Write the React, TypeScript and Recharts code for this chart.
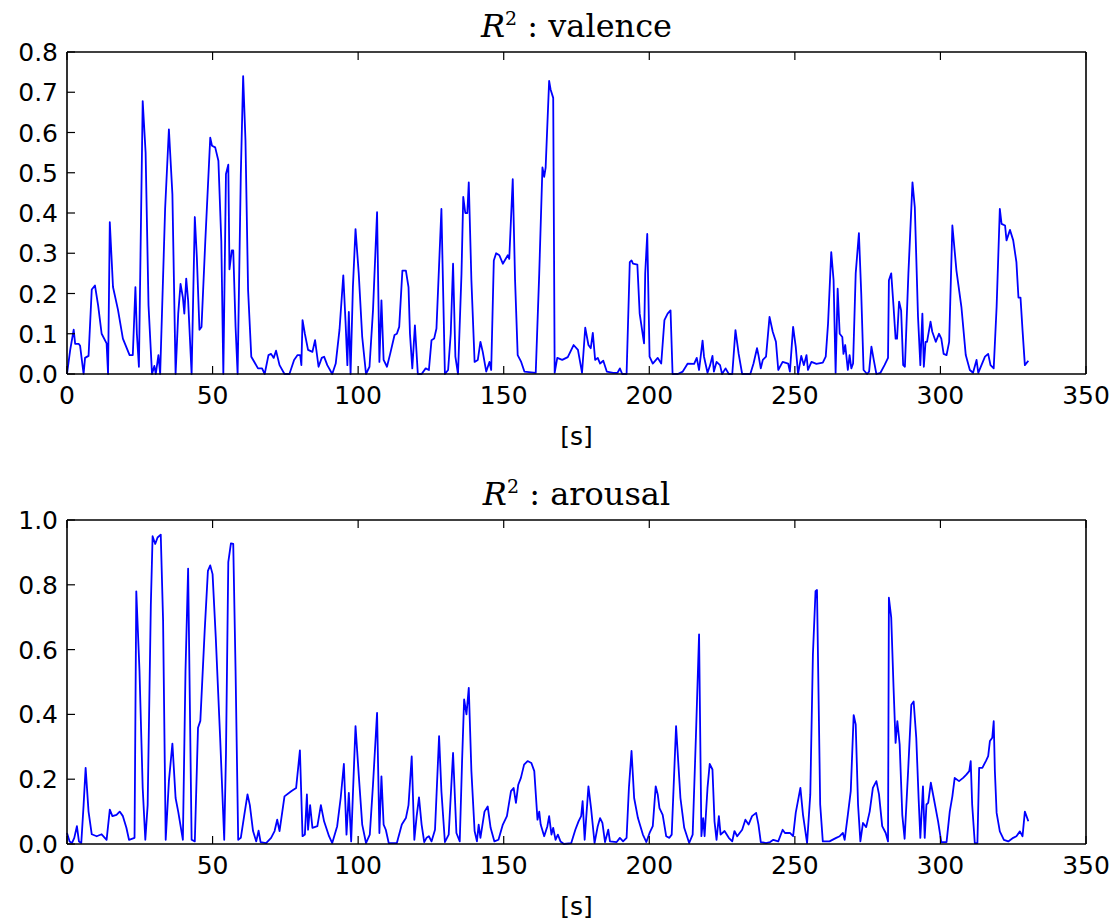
import React from 'react';
import { LineChart, Line, XAxis, YAxis } from 'recharts';

// time stamps [s] and R^2 values
const valenceTime = [
  0, 1.1, 2.3, 2.8, 4, 4.5, 5.7, 6.2, 7.4, 8.5, 9.6, 10.7, 11.9, 13.6, 14.1, 14.7, 15.8, 17.5, 19.2, 21.5,
  22.6, 23.5, 24, 24.7, 26, 27, 28, 29.2, 30, 30.5, 31.4, 32, 33.7, 35, 36.2, 37.3, 38.2, 39, 39.8, 40.3,
  40.95, 41.6, 42.8, 43.9, 44.6, 45.5, 46.2, 47.5, 49.2, 49.8, 50.9, 52, 53, 53.7, 54.6, 55.4, 55.8, 56.6, 57.1, 57.9,
  58.6, 59.7, 60.5, 61.3, 62.2, 63.3, 65.6, 67, 67.9, 69.2, 70.1, 71, 71.8, 73, 74.7, 76.4, 78, 79.2, 80.1, 80.5,
  80.9, 81.7, 82.8, 84.3, 85.2, 86.4, 87.5, 88.3, 89.4, 91.1, 92.3, 93.6, 94.9, 95.7, 96.3, 96.8, 97.4, 98.2, 99.1, 100.2,
  101.4, 102.7, 103.9, 105.1, 106.5, 107.3, 108, 108.75, 109.9, 111, 112.5, 113.3, 114.1, 115.2, 116.4, 117.3, 117.8, 118.6, 119.5, 120.5,
  121.8, 123.2, 124.3, 125.2, 126.1, 126.9, 128.6, 129.8, 130.9, 131.8, 132.6, 133.4, 134.3, 135.5, 136.1, 136.8, 137.5, 138, 138.9, 140,
  141.1, 142, 142.8, 144, 145.1, 145.7, 146.6, 147.4, 148.5, 149.7, 151.4, 151.9, 153.1, 153.9, 154.8, 156, 157.1, 161, 162.2, 163.3,
  163.9, 164.4, 165.6, 166.1, 167, 167.5, 168.4, 170.1, 172, 174, 175.5, 176.9, 178, 179.1, 179.9, 180.6, 181.4, 182.3, 183.1, 184.2,
  185.4, 187.6, 189.1, 189.9, 190.7, 192.2, 193.3, 193.9, 194.4, 195.9, 196.7, 198.2, 198.6, 199.3, 200.1, 201.2, 202.9, 204.1, 205.2, 206.3,
  207.3, 208, 209.8, 211.5, 213.2, 215.4, 216.3, 217.1, 218.3, 218.8, 220, 220.9, 221.7, 222.2, 223.1, 224.3, 225, 226.2, 227.3, 228.5,
  229.6, 230.7, 231.9, 234.7, 235.8, 237, 237.5, 238.3, 239, 240.1, 241.3, 242.4, 243.5, 244.3, 245.8, 247.7, 248.3, 249.4, 250.3, 251.1,
  252.2, 253.1, 254, 254.5, 255.7, 257.4, 259.6, 260.6, 261.4, 262.5, 263.3, 264, 264.7, 265.4, 266.3, 266.7, 267.3, 268.2, 268.8, 269.4,
  270, 270.9, 272, 272.8, 273.6, 274.8, 275.5, 276.3, 277.1, 278, 279.4, 280.8, 282, 282.3, 283.1, 283.9, 284.6, 285.1, 285.8, 286.5,
  287.2, 287.8, 289, 290.4, 291.2, 292.3, 293.1, 293.8, 294.3, 294.9, 295.4, 296.6, 297.2, 298.4, 299.5, 300.3, 301.1, 302.1, 303, 304.1,
  305.5, 307.2, 308.7, 310.1, 311.2, 312.4, 313, 314.1, 315.3, 316.4, 317.2, 318.3, 319.3, 320.4, 321, 322.2, 322.7, 323.9, 325, 326.1,
  326.8, 327.5, 328.2, 329, 330.2,
];
const valenceR2 = [
  0, 0.06, 0.11, 0.075, 0.075, 0.07, 0, 0.04, 0.045, 0.21, 0.22, 0.17, 0.1, 0.076, 0, 0.377, 0.216, 0.16, 0.088, 0.047,
  0.047, 0.216, 0.1, 0.018, 0.678, 0.55, 0.17, 0, 0.02, 0, 0.047, 0, 0.41, 0.608, 0.447, 0, 0.15, 0.224, 0.19, 0.15,
  0.237, 0.183, 0, 0.39, 0.29, 0.11, 0.117, 0.33, 0.587, 0.567, 0.563, 0.53, 0.33, 0, 0.497, 0.52, 0.26, 0.307, 0.307, 0.117,
  0, 0.497, 0.74, 0.58, 0.208, 0.043, 0.014, 0.014, 0, 0.047, 0.05, 0.04, 0.058, 0.022, 0, 0, 0.035, 0.047, 0.047, 0.022,
  0.134, 0.1, 0.06, 0.055, 0.084, 0.018, 0.04, 0.043, 0.022, 0, 0.026, 0.11, 0.245, 0.125, 0.022, 0.154, 0, 0.216, 0.36, 0.25,
  0.092, 0, 0.018, 0.158, 0.402, 0.03, 0.183, 0.035, 0.018, 0.05, 0.097, 0.1, 0.117, 0.257, 0.257, 0.216, 0.1, 0.014, 0.121, 0,
  0, 0.014, 0.01, 0.084, 0.088, 0.113, 0.41, 0, 0.01, 0.1, 0.274, 0.043, 0, 0.25, 0.44, 0.4, 0.4, 0.476, 0.233, 0.03,
  0.035, 0.08, 0.055, 0.006, 0.03, 0.01, 0.282, 0.3, 0.295, 0.274, 0.295, 0.286, 0.484, 0.233, 0.047, 0.03, 0.006, 0.003, 0.25, 0.513,
  0.49, 0.513, 0.728, 0.707, 0.686, 0.003, 0.04, 0.035, 0.042, 0.072, 0.06, 0.003, 0.115, 0.072, 0.064, 0.102, 0.035, 0.04, 0.026, 0.033,
  0.006, 0.003, 0.003, 0.014, 0, 0, 0.278, 0.282, 0.274, 0.272, 0.15, 0.076, 0.25, 0.348, 0.043, 0.026, 0.04, 0.026, 0.134, 0.15,
  0.158, 0, 0, 0.006, 0.026, 0.025, 0.04, 0.01, 0.083, 0.043, 0.003, 0.022, 0.045, 0.006, 0.03, 0.022, 0, 0.014, 0, 0,
  0.109, 0.05, 0, 0, 0.026, 0.064, 0.047, 0.014, 0.035, 0.043, 0.142, 0.105, 0.08, 0.01, 0.03, 0.026, 0.006, 0.117, 0.068, 0,
  0.045, 0.022, 0.047, 0.01, 0.03, 0.025, 0.028, 0.043, 0.125, 0.303, 0.233, 0.003, 0.212, 0.1, 0.092, 0.05, 0.072, 0.01, 0.047, 0.014,
  0.026, 0.25, 0.35, 0.2, 0.01, 0, 0.006, 0.068, 0.035, 0, 0.003, 0.022, 0.04, 0.233, 0.25, 0.167, 0.088, 0.088, 0.18, 0.158,
  0.022, 0.018, 0.25, 0.476, 0.414, 0.142, 0.022, 0.15, 0.018, 0.08, 0.08, 0.13, 0.105, 0.08, 0.1, 0.088, 0.05, 0.047, 0.08, 0.369,
  0.257, 0.167, 0.047, 0.01, 0.003, 0.035, 0.003, 0.022, 0.043, 0.05, 0.022, 0.014, 0.167, 0.41, 0.373, 0.369, 0.332, 0.358, 0.332, 0.278,
  0.19, 0.19, 0.109, 0.022, 0.033,
];

const arousalTime = [
  0, 0.9, 1.7, 2.5, 3.4, 4.1, 4.9, 5.7, 6.4, 7.4, 8.5, 10.2, 11.9, 13.6, 14.7, 15.6, 17, 18.1, 19.2, 20.4,
  21.3, 23.2, 23.8, 24.9, 26, 26.9, 27.7, 28.8, 29.4, 30.3, 31.1, 32.2, 33, 33.9, 35, 36.2, 37.3, 38.2, 39.8, 40.7,
  41.6, 42.8, 43.9, 45, 45.8, 47.3, 48.4, 49.2, 50, 51.1, 52.6, 54, 54.6, 55.4, 56.3, 57.1, 57.9, 58.8, 59.7, 60.9,
  62, 62.8, 63.9, 65, 65.8, 66.5, 68.4, 70.1, 71.3, 72.2, 73, 74.7, 77, 78.7, 80, 80.9, 81.7, 82.4, 82.8, 83.5,
  84.3, 86, 87.2, 88.3, 90, 91.1, 92.8, 94, 95.1, 96, 96.8, 97.6, 98.2, 99.1, 100.2, 101.4, 102.7, 104, 105.1, 106.5,
  107.3, 108, 108.75, 109.5, 110.5, 113.3, 115, 116.4, 117.3, 118.4, 119.3, 120.1, 120.9, 121.8, 122.7, 123.5, 124.3, 125.2, 126.4, 127.8,
  128.6, 129.8, 131.1, 132.6, 133.75, 134.9, 135.7, 136.4, 137.2, 138, 138.9, 140, 140.8, 141.4, 142, 143.4, 144.5, 145.5, 146.8, 148.2,
  149.7, 151.1, 152.5, 153.4, 154.2, 155, 155.9, 157, 158.2, 159.5, 160.5, 161.6, 162.2, 162.7, 163.9, 165, 165.6, 166.4, 167, 167.8,
  168.6, 169.5, 170.7, 173.2, 174.6, 175.7, 176.6, 177.1, 177.8, 179.1, 180, 181.2, 182.3, 183.1, 183.9, 184.8, 185.9, 186.5, 188.8, 189.9,
  191, 192.2, 193, 193.9, 194.8, 196.1, 197.8, 199, 200.1, 201.2, 202.2, 202.9, 203.5, 204.6, 205.8, 206.9, 207.7, 209.2, 210.7, 212,
  213.7, 214.9, 216, 217.1, 217.9, 218.5, 219, 220, 220.75, 221.7, 222.4, 223.1, 223.9, 224.5, 225.85, 227.3, 228.5, 229.25, 230.2, 231.9,
  233, 234.1, 235.3, 236.7, 237.5, 238.3, 240.1, 241.5, 242.6, 244.3, 245.8, 246.6, 248.3, 249.4, 250.3, 251.9, 252.8, 254.2, 255.3, 256.2,
  257.1, 257.6, 258.7, 259.6, 261.9, 264.2, 265.4, 266.5, 267.1, 268.2, 269.2, 270.2, 270.9, 271.7, 272.5, 273.4, 274.5, 275.7, 276.8, 278,
  278.9, 280, 281.2, 282, 282.3, 283.1, 283.9, 284.6, 285.2, 286, 286.9, 287.7, 288.9, 290, 290.8, 291.7, 292.5, 293.1, 294, 294.6,
  295.2, 295.8, 296.7, 297.7, 299.2, 300.3, 302.1, 303.2, 304.1, 304.9, 306.4, 307.8, 308.9, 309.9, 310.4, 310.9, 311.8, 312.7, 313.3, 314.4,
  315.6, 316.4, 317, 317.8, 318.3, 318.7, 319.3, 320.4, 321.8, 323.3, 325, 326.1, 327.3, 328.2, 329, 330.2,
];
const arousalR2 = [
  0.034, 0.008, 0.003, 0.019, 0.055, 0.008, 0.003, 0.12, 0.235, 0.1, 0.03, 0.024, 0.03, 0.013, 0.106, 0.086, 0.09, 0.1, 0.086, 0.05,
  0.013, 0.019, 0.78, 0.534, 0.173, 0.013, 0.12, 0.74, 0.95, 0.926, 0.946, 0.955, 0.69, 0.013, 0.194, 0.31, 0.142, 0.1, 0.013, 0.534,
  0.85, 0.013, 0.008, 0.359, 0.38, 0.66, 0.843, 0.86, 0.833, 0.637, 0.328, 0.013, 0.276, 0.87, 0.928, 0.926, 0.534, 0.013, 0.019, 0.09,
  0.153, 0.12, 0.04, 0.008, 0.041, 0.006, 0.003, 0.019, 0.04, 0.075, 0.04, 0.147, 0.163, 0.173, 0.289, 0.024, 0.029, 0.153, 0.044, 0.12,
  0.05, 0.055, 0.12, 0.07, 0.024, 0.003, 0.055, 0.142, 0.247, 0.029, 0.158, 0.008, 0.153, 0.364, 0.214, 0.06, 0.003, 0.029, 0.183, 0.405,
  0.034, 0.209, 0.06, 0.044, 0.003, 0.003, 0.06, 0.08, 0.12, 0.27, 0.013, 0.086, 0.144, 0.06, 0.006, 0.019, 0.024, 0.008, 0.044, 0.333,
  0.163, 0.006, 0.029, 0.281, 0.034, 0.008, 0.256, 0.446, 0.4, 0.482, 0.225, 0.04, 0.008, 0.06, 0.019, 0.1, 0.116, 0.05, 0.008, 0.013,
  0.06, 0.086, 0.163, 0.173, 0.127, 0.183, 0.204, 0.245, 0.256, 0.25, 0.225, 0.075, 0.1, 0.06, 0.024, 0.055, 0.086, 0.029, 0.05, 0.013,
  0.029, 0.008, 0, 0.003, 0.044, 0.07, 0.086, 0.132, 0.013, 0.178, 0.111, 0.003, 0.055, 0.08, 0.065, 0.006, 0.044, 0.008, 0.006, 0.019,
  0.008, 0.019, 0.173, 0.287, 0.142, 0.08, 0.029, 0.006, 0.034, 0.055, 0.178, 0.153, 0.111, 0.09, 0.024, 0.019, 0.029, 0.364, 0.142, 0.05,
  0.003, 0.029, 0.328, 0.647, 0.024, 0.08, 0.024, 0.173, 0.247, 0.23, 0.07, 0.013, 0.086, 0.029, 0.04, 0.019, 0.008, 0.04, 0.024, 0.044,
  0.075, 0.06, 0.086, 0.096, 0.06, 0.006, 0.003, 0.006, 0.013, 0.008, 0.044, 0.034, 0.034, 0.024, 0.096, 0.173, 0.09, 0.003, 0.153, 0.585,
  0.78, 0.784, 0.122, 0.008, 0.008, 0.019, 0.024, 0.034, 0.013, 0.09, 0.163, 0.398, 0.369, 0.122, 0.008, 0.065, 0.052, 0.1, 0.173, 0.194,
  0.153, 0.055, 0.034, 0.008, 0.76, 0.699, 0.482, 0.312, 0.379, 0.307, 0.09, 0.016, 0.225, 0.43, 0.44, 0.328, 0.142, 0.019, 0.178, 0.019,
  0.122, 0.127, 0.189, 0.142, 0.07, 0.006, 0.006, 0.1, 0.147, 0.204, 0.194, 0.204, 0.214, 0.225, 0.256, 0.122, 0.003, 0.003, 0.235, 0.235,
  0.256, 0.271, 0.318, 0.328, 0.379, 0.225, 0.096, 0.039, 0.013, 0.008, 0.019, 0.024, 0.039, 0.024, 0.1, 0.07,
];

const xTicks = [0, 50, 100, 150, 200, 250, 300, 350];
const valenceTicks = [0, 0.1, 0.2, 0.3, 0.4, 0.5, 0.6, 0.7, 0.8];
const arousalTicks = [0, 0.2, 0.4, 0.6, 0.8, 1.0];

const TICK_LEN = 8;
const SANS = 'DejaVu Sans';
const SERIF = 'DejaVu Serif';

// plot box inside each panel
const PLOT_LEFT = 67;
const PLOT_RIGHT = 1086;
const PLOT_TOP = 52;

const BottomTick = (props: any) => {
  const { x, y, payload } = props;
  return (
    <g>
      <line x1={x} x2={x} y1={y} y2={y - TICK_LEN} stroke="#000" strokeWidth={1.2} />
      <text x={x} y={y + 30} textAnchor="middle" fontFamily={SANS} fontSize={25} fill="#000">
        {payload.value}
      </text>
    </g>
  );
};

const TopTick = (props: any) => {
  const { x, y } = props;
  return <line x1={x} x2={x} y1={y} y2={y + TICK_LEN} stroke="#000" strokeWidth={1.2} />;
};

const LeftTick = (props: any) => {
  const { x, y, payload } = props;
  return (
    <g>
      <line x1={x} x2={x + TICK_LEN} y1={y} y2={y} stroke="#000" strokeWidth={1.2} />
      <text x={x - 9} y={y + 9} textAnchor="end" fontFamily={SANS} fontSize={25} fill="#000">
        {Number(payload.value).toFixed(1)}
      </text>
    </g>
  );
};

const RightTick = (props: any) => {
  const { x, y } = props;
  return <line x1={x} x2={x - TICK_LEN} y1={y} y2={y} stroke="#000" strokeWidth={1.2} />;
};

const axisLine = { stroke: '#000', strokeWidth: 1.6 };

function Panel({ top, plotHeight, name, time, values, yTicks }: any) {
  const data = time.map((t: number, i: number) => ({ t, v: values[i] }));
  const height = 470;
  const yMax = yTicks[yTicks.length - 1];
  return (
    <div style={{ position: 'absolute', left: 0, top, width: 1117, height }}>
      <LineChart
        width={1117}
        height={height}
        data={data}
        margin={{
          top: PLOT_TOP - 1,
          left: PLOT_LEFT - 1,
          right: 1117 - PLOT_RIGHT - 1,
          bottom: height - PLOT_TOP - plotHeight - 1,
        }}
      >
        <XAxis
          xAxisId="b"
          dataKey="t"
          type="number"
          domain={[0, 350]}
          ticks={xTicks}
          interval={0}
          height={1}
          tickSize={0}
          tickMargin={0}
          tickLine={false}
          axisLine={axisLine}
          tick={<BottomTick />}
        />
        <XAxis
          xAxisId="t"
          orientation="top"
          dataKey="t"
          type="number"
          domain={[0, 350]}
          ticks={xTicks}
          interval={0}
          height={1}
          tickSize={0}
          tickMargin={0}
          tickLine={false}
          axisLine={axisLine}
          tick={<TopTick />}
        />
        <YAxis
          yAxisId="l"
          type="number"
          domain={[0, yMax]}
          ticks={yTicks}
          interval={0}
          width={1}
          tickSize={0}
          tickMargin={0}
          tickLine={false}
          axisLine={axisLine}
          tick={<LeftTick />}
        />
        <YAxis
          yAxisId="r"
          orientation="right"
          type="number"
          domain={[0, yMax]}
          ticks={yTicks}
          interval={0}
          width={1}
          tickSize={0}
          tickMargin={0}
          tickLine={false}
          axisLine={axisLine}
          tick={<RightTick />}
        />
        <Line
          xAxisId="b"
          yAxisId="l"
          type="linear"
          dataKey="v"
          stroke="#0000ff"
          strokeWidth={1.8}
          strokeLinejoin="round"
          dot={false}
          isAnimationActive={false}
        />
      </LineChart>
      <svg
        width={1117}
        height={height}
        style={{ position: 'absolute', left: 0, top: 0, pointerEvents: 'none' }}
      >
        <text x={576.5} y={37} textAnchor="middle" fontFamily={SERIF} fontSize={32} fill="#000">
          <tspan fontStyle="italic">R</tspan>
          <tspan dy={-12} fontSize={19}>2</tspan>
          <tspan dy={12}>{' : ' + name}</tspan>
        </text>
        <text x={576.5} y={PLOT_TOP + plotHeight + 71} textAnchor="middle" fontFamily={SANS} fontSize={25} fill="#000">
          [s]
        </text>
      </svg>
    </div>
  );
}

export default function App() {
  return (
    <div style={{ position: 'absolute', left: 0, top: 0, width: 1117, height: 920, background: '#fff' }}>
      <Panel top={0} plotHeight={322} name="valence" time={valenceTime} values={valenceR2} yTicks={valenceTicks} />
      <Panel top={468} plotHeight={324} name="arousal" time={arousalTime} values={arousalR2} yTicks={arousalTicks} />
    </div>
  );
}
